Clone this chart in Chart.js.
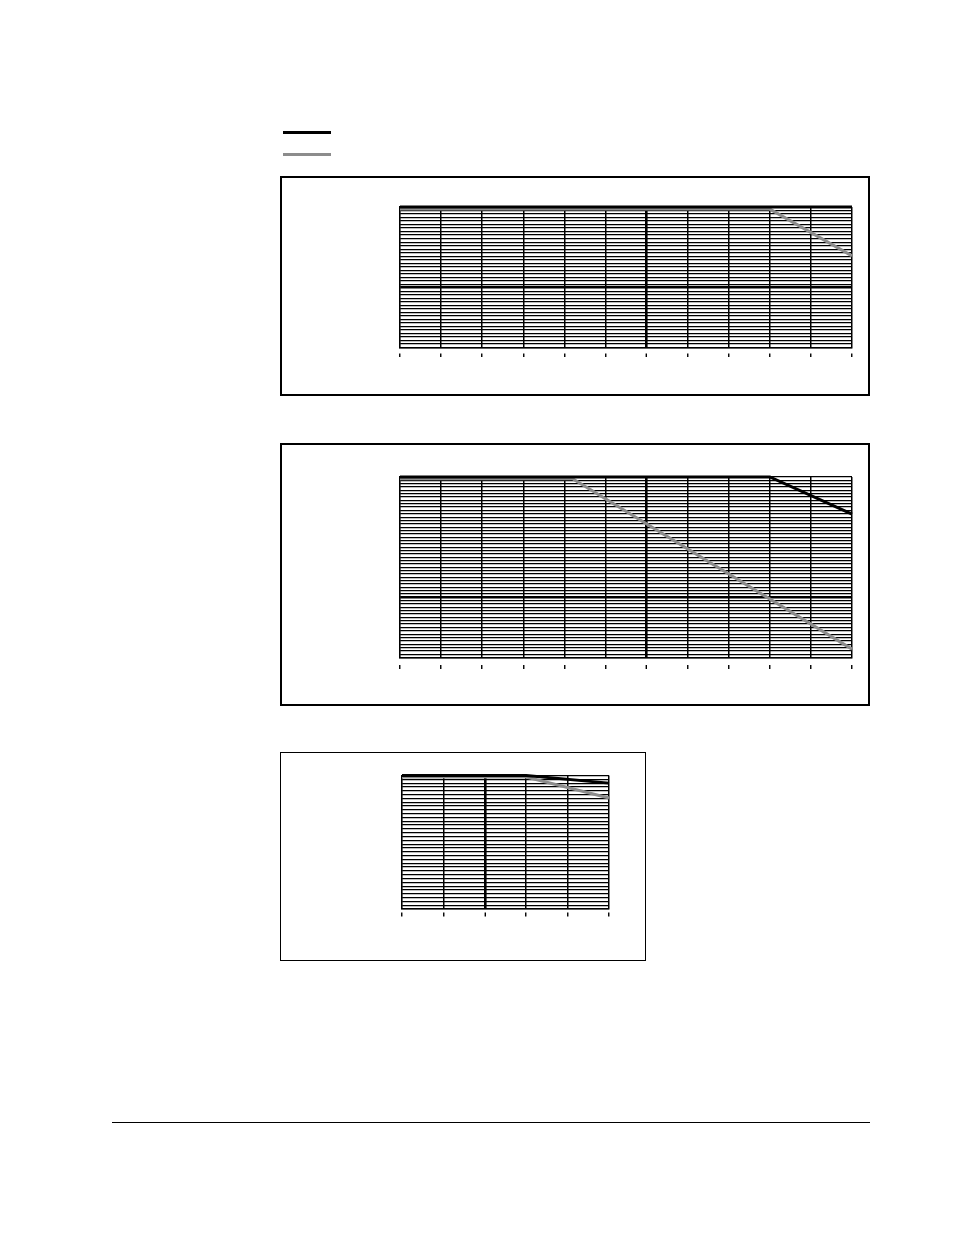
<!DOCTYPE html>
<html>
<head>
<meta charset="utf-8">
<title>Derating curves</title>
<script src="https://cdn.jsdelivr.net/npm/chart.js@4.4.1/dist/chart.umd.min.js"></script>
<style>
  html, body { margin: 0; padding: 0; background: #fff; }
  body { position: relative; width: 954px; height: 1235px; overflow: hidden; font-family: "Liberation Sans", Arial, sans-serif; }
  .box { position: absolute; box-sizing: border-box; border: 2px solid #000; }
  .box.thin { border-width: 1px; }
  .box canvas { position: absolute; left: -2px; top: -2px; }
  .box.thin canvas { left: -1px; top: -1px; }
  .swatch { position: absolute; left: 283px; width: 48px; height: 3px; }
  .rule { position: absolute; left: 112px; top: 1122px; width: 758px; height: 1px; background: #000; }
</style>
</head>
<body>

<div class="swatch" style="top:131px;background:#000"></div>
<div class="swatch" style="top:153px;background:#8c8c8c"></div>

<div class="box" style="left:280px;top:176px;width:590px;height:220px">
  <canvas id="chart-a" width="590" height="220"></canvas>
</div>
<div class="box" style="left:280px;top:443px;width:590px;height:263px">
  <canvas id="chart-b" width="590" height="263"></canvas>
</div>
<div class="box thin" style="left:280px;top:752px;width:366px;height:209px">
  <canvas id="chart-c" width="366" height="209"></canvas>
</div>

<div class="rule"></div>

<script>
// x values are in tick steps; the source carries no axis labels
// chart A (top)
const aTicksX = 11, aTicksY = 40, aBoldX = 6, aBoldY = 17;
const aBlackX = [0, 9, 11];
const aBlackY = [40, 40, 40];
const aGrayX = [0, 9, 11];
const aGrayY = [39.4, 39.4, 26.1];

// chart B (middle)
const bTicksX = 11, bTicksY = 54, bBoldX = 6, bBoldY = 18;
const bBlackX = [0, 9, 11];
const bBlackY = [54, 54, 42.9];
const bGrayX = [0, 4.2, 11];
const bGrayY = [53.45, 53.45, 2.5];

// chart C (bottom)
const cTicksX = 5, cTicksY = 35, cBoldX = 2, cBoldY = null;
const cBlackX = [0, 3, 5];
const cBlackY = [35, 35, 33];
const cGrayX = [0, 3, 5];
const cGrayY = [34.6, 34.6, 29.1];

const BLACK = '#000000';
const GRAY = '#8c8c8c';

function pts(xs, ys) {
  return xs.map(function (x, i) { return { x: x, y: ys[i] }; });
}

function makeChart(id, cfg) {
  const ctx = document.getElementById(id).getContext('2d');
  return new Chart(ctx, {
    type: 'line',
    data: {
      datasets: [
        {
          label: 'black',
          data: pts(cfg.blackX, cfg.blackY),
          borderColor: BLACK,
          borderWidth: 3,
          order: 0
        },
        {
          label: 'gray',
          data: pts(cfg.grayX, cfg.grayY),
          borderColor: GRAY,
          borderWidth: 3,
          order: 1
        }
      ]
    },
    options: {
      responsive: false,
      animation: false,
      events: [],
      layout: { padding: cfg.pad },
      elements: {
        point: { radius: 0 },
        line: { tension: 0, borderCapStyle: 'butt', fill: false }
      },
      datasets: { line: { clip: false } },
      plugins: { legend: { display: false }, tooltip: { enabled: false } },
      scales: {
        x: {
          type: 'linear',
          min: 0,
          max: cfg.ticksX,
          border: { color: BLACK, width: 1.5 },
          grid: {
            color: BLACK,
            lineWidth: function (c) { return c.tick && c.tick.value === cfg.boldX ? 2.6 : 1.5; },
            drawTicks: true,
            tickLength: cfg.tickGap + cfg.tickLen,
            tickWidth: 1.4,
            tickColor: BLACK,
            tickBorderDash: [0, cfg.tickGap, cfg.tickLen, 100]
          },
          ticks: { display: false, stepSize: 1, maxTicksLimit: 1000 }
        },
        y: {
          type: 'linear',
          min: 0,
          max: cfg.ticksY,
          border: { color: BLACK, width: 1.2 },
          grid: {
            color: BLACK,
            lineWidth: function (c) { return c.tick && c.tick.value === cfg.boldY ? 2.6 : 1.2; },
            drawTicks: false
          },
          ticks: { display: false, stepSize: 1, maxTicksLimit: 1000 }
        }
      }
    }
  });
}

makeChart('chart-a', {
  ticksX: aTicksX, ticksY: aTicksY, boldX: aBoldX, boldY: aBoldY,
  blackX: aBlackX, blackY: aBlackY, grayX: aGrayX, grayY: aGrayY,
  tickGap: 5, tickLen: 4.5,
  pad: { left: 120, right: 18, top: 31, bottom: 39 }
});

makeChart('chart-b', {
  ticksX: bTicksX, ticksY: bTicksY, boldX: bBoldX, boldY: bBoldY,
  blackX: bBlackX, blackY: bBlackY, grayX: bGrayX, grayY: bGrayY,
  tickGap: 6.5, tickLen: 5,
  pad: { left: 120, right: 18, top: 34, bottom: 37 }
});

makeChart('chart-c', {
  ticksX: cTicksX, ticksY: cTicksY, boldX: cBoldX, boldY: cBoldY,
  blackX: cBlackX, blackY: cBlackY, grayX: cGrayX, grayY: cGrayY,
  tickGap: 3, tickLen: 4.5,
  pad: { left: 122, right: 37, top: 23.5, bottom: 44.5 }
});
</script>
</body>
</html>
